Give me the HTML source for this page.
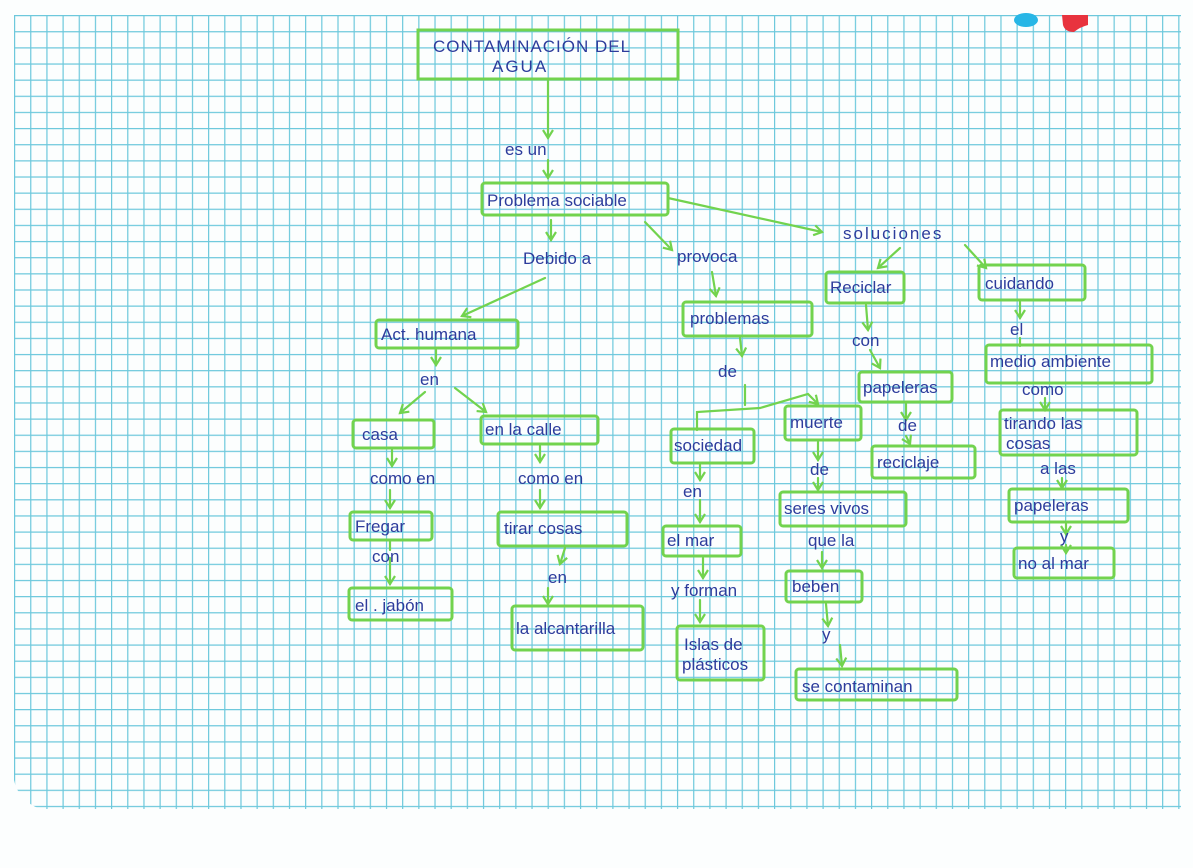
<!DOCTYPE html>
<html><head><meta charset="utf-8"><style>
html,body{margin:0;padding:0;background:#fcfefe;}
svg{display:block}
text{font-family:"Liberation Sans","DejaVu Sans",sans-serif;fill:#2d3c9c;font-size:17px;}
.b{fill:none;stroke:#72d34e;stroke-width:3;}
.l{fill:none;stroke:#72d34e;stroke-width:2.2;stroke-linecap:round;}
</style></head><body>
<svg width="1193" height="868" viewBox="0 0 1193 868" xmlns="http://www.w3.org/2000/svg">
<defs>
<pattern id="g" x="14" y="15" width="16.17" height="16.14" patternUnits="userSpaceOnUse">
<path d="M0.6 0V16.14M0 0.6H16.17" stroke="#6cc8dc" stroke-width="1.2" fill="none"/>
</pattern>
<marker id="a" markerWidth="12" markerHeight="12" refX="9" refY="6" orient="auto" markerUnits="userSpaceOnUse">
<path d="M1 1L9 6L1 11" fill="none" stroke="#72d34e" stroke-width="2.2"/>
</marker>
<clipPath id="c"><path d="M14 15H1181V809H40Q18 800 14 780Z"/></clipPath>
</defs>
<rect width="1193" height="868" fill="#fcfefe"/>
<rect x="14" y="15" width="1167" height="794" fill="url(#g)" clip-path="url(#c)"/>
<ellipse cx="1026" cy="20" rx="12" ry="7" fill="#28b6e6"/>
<path d="M1062 15H1088V25Q1080 27 1074 32Q1065 32 1063 25Z" fill="#e8333e"/>

<!-- boxes -->
<rect class="b" x="418" y="30" width="260" height="49"/>
<rect class="b" x="482" y="183" width="186" height="32" rx="3"/>
<rect class="b" x="376" y="320" width="142" height="28" rx="3"/>
<rect class="b" x="353" y="420" width="81" height="28" rx="3"/>
<rect class="b" x="481" y="416" width="117" height="28" rx="3"/>
<rect class="b" x="350" y="512" width="82" height="28" rx="3"/>
<rect class="b" x="349" y="588" width="103" height="32" rx="3"/>
<rect class="b" x="498" y="512" width="129" height="34" rx="3"/>
<rect class="b" x="512" y="606" width="131" height="44" rx="3"/>
<rect class="b" x="683" y="302" width="129" height="34" rx="3"/>
<rect class="b" x="671" y="429" width="83" height="34" rx="3"/>
<rect class="b" x="663" y="526" width="78" height="30" rx="3"/>
<rect class="b" x="677" y="626" width="87" height="54" rx="3"/>
<rect class="b" x="785" y="406" width="76" height="34" rx="3"/>
<rect class="b" x="780" y="492" width="126" height="34" rx="3"/>
<rect class="b" x="786" y="571" width="76" height="31" rx="3"/>
<rect class="b" x="796" y="669" width="161" height="31" rx="3"/>
<rect class="b" x="826" y="272" width="78" height="31" rx="3"/>
<rect class="b" x="859" y="372" width="93" height="30" rx="3"/>
<rect class="b" x="872" y="446" width="103" height="32" rx="3"/>
<rect class="b" x="979" y="265" width="106" height="35" rx="3"/>
<rect class="b" x="986" y="345" width="166" height="38" rx="3"/>
<rect class="b" x="1000" y="410" width="137" height="45" rx="3"/>
<rect class="b" x="1009" y="489" width="119" height="33" rx="3"/>
<rect class="b" x="1014" y="548" width="100" height="30" rx="3"/>

<!-- connectors -->
<path class="l" marker-end="url(#a)" d="M548 80V138"/>
<path class="l" marker-end="url(#a)" d="M548 160V178"/>
<path class="l" marker-end="url(#a)" d="M668 198L822 232"/>
<path class="l" marker-end="url(#a)" d="M551 220V240"/>
<path class="l" marker-end="url(#a)" d="M645 222L672 250"/>
<path class="l" marker-end="url(#a)" d="M545 278L462 316"/>
<path class="l" marker-end="url(#a)" d="M436 350V365"/>
<path class="l" marker-end="url(#a)" d="M425 392L400 413"/>
<path class="l" marker-end="url(#a)" d="M455 388L486 412"/>
<path class="l" marker-end="url(#a)" d="M392 450V466"/>
<path class="l" marker-end="url(#a)" d="M390 490V508"/>
<path class="l" d="M390 540V550"/>
<path class="l" marker-end="url(#a)" d="M390 558V584"/>
<path class="l" marker-end="url(#a)" d="M540 446V462"/>
<path class="l" marker-end="url(#a)" d="M540 490V508"/>
<path class="l" marker-end="url(#a)" d="M565 548L560 564"/>
<path class="l" marker-end="url(#a)" d="M548 588V604"/>
<path class="l" marker-end="url(#a)" d="M712 272L716 296"/>
<path class="l" marker-end="url(#a)" d="M740 338L742 356"/>
<path class="l" d="M745 385V405"/>
<path class="l" marker-end="url(#a)" d="M697 430V412L760 408L808 394L818 404"/>
<path class="l" marker-end="url(#a)" d="M700 465V480"/>
<path class="l" marker-end="url(#a)" d="M700 500V522"/>
<path class="l" marker-end="url(#a)" d="M703 558V578"/>
<path class="l" marker-end="url(#a)" d="M700 600V622"/>
<path class="l" marker-end="url(#a)" d="M818 442V460"/>
<path class="l" marker-end="url(#a)" d="M818 478V490"/>
<path class="l" marker-end="url(#a)" d="M822 552V568"/>
<path class="l" marker-end="url(#a)" d="M826 604L828 626"/>
<path class="l" marker-end="url(#a)" d="M840 645L842 666"/>
<path class="l" marker-end="url(#a)" d="M900 248L878 268"/>
<path class="l" marker-end="url(#a)" d="M965 245L986 268"/>
<path class="l" marker-end="url(#a)" d="M866 305L868 330"/>
<path class="l" marker-end="url(#a)" d="M870 350L880 368"/>
<path class="l" marker-end="url(#a)" d="M906 404V420"/>
<path class="l" marker-end="url(#a)" d="M906 436L910 444"/>
<path class="l" marker-end="url(#a)" d="M1020 302V318"/>
<path class="l" d="M1020 338V346"/>
<path class="l" marker-end="url(#a)" d="M1045 398V410"/>
<path class="l" marker-end="url(#a)" d="M1062 478V488"/>
<path class="l" marker-end="url(#a)" d="M1066 524V534"/>
<path class="l" marker-end="url(#a)" d="M1066 545V553"/>

<!-- text -->
<text x="433" y="52" font-size="19" letter-spacing="1">CONTAMINACIÓN DEL</text>
<text x="492" y="72" font-size="19" letter-spacing="2">AGUA</text>
<text x="505" y="155">es  un</text>
<text x="487" y="206" font-size="16">Problema sociable</text>
<text x="523" y="264">Debido a</text>
<text x="677" y="262">provoca</text>
<text x="843" y="239" letter-spacing="2">soluciones</text>
<text x="381" y="340">Act. humana</text>
<text x="420" y="385">en</text>
<text x="362" y="440" font-size="18">casa</text>
<text x="485" y="435">en la calle</text>
<text x="370" y="484">como en</text>
<text x="518" y="484">como en</text>
<text x="355" y="532">Fregar</text>
<text x="372" y="562">con</text>
<text x="355" y="611">el . jabón</text>
<text x="504" y="534" font-size="18">tirar cosas</text>
<text x="548" y="583">en</text>
<text x="516" y="634" font-size="15">la alcantarilla</text>
<text x="690" y="324" font-size="18">problemas</text>
<text x="718" y="377">de</text>
<text x="674" y="451" font-size="15">sociedad</text>
<text x="683" y="497">en</text>
<text x="667" y="546" font-size="15">el mar</text>
<text x="671" y="596">y forman</text>
<text x="684" y="650" font-size="15">Islas de</text>
<text x="682" y="670" font-size="15">plásticos</text>
<text x="790" y="428">muerte</text>
<text x="810" y="475">de</text>
<text x="784" y="514">seres vivos</text>
<text x="808" y="546">que la</text>
<text x="792" y="592" font-size="15">beben</text>
<text x="822" y="640">y</text>
<text x="802" y="692">se contaminan</text>
<text x="830" y="293" font-size="15">Reciclar</text>
<text x="852" y="346">con</text>
<text x="863" y="393" font-size="15">papeleras</text>
<text x="898" y="431">de</text>
<text x="877" y="468">reciclaje</text>
<text x="985" y="289">cuidando</text>
<text x="1010" y="335">el</text>
<text x="990" y="367" font-size="16">medio ambiente</text>
<text x="1022" y="395" font-size="15">como</text>
<text x="1004" y="429" font-size="16">tirando las</text>
<text x="1006" y="449" font-size="16">cosas</text>
<text x="1040" y="474">a las</text>
<text x="1014" y="511">papeleras</text>
<text x="1060" y="542">y</text>
<text x="1018" y="569">no al mar</text>
</svg>
</body></html>
